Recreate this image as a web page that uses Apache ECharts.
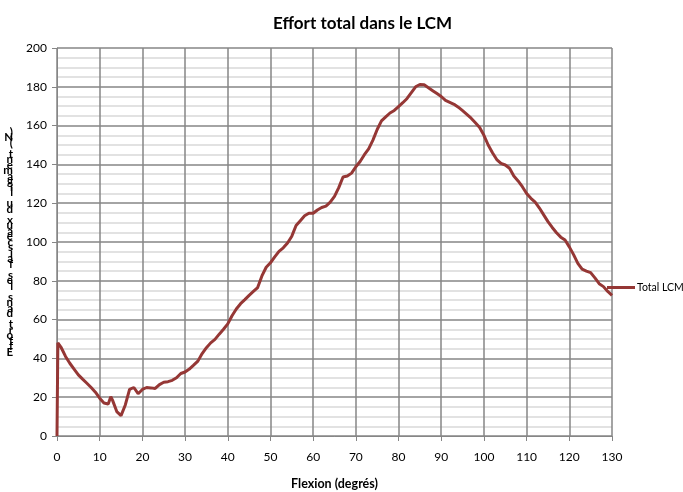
<!DOCTYPE html>
<html>
<head>
<meta charset="utf-8">
<script src="https://cdn.jsdelivr.net/npm/echarts@6/dist/echarts.min.js"></script>
<style>
  html, body { margin: 0; padding: 0; background: #fff; }
  #chart { width: 683px; height: 492px; }
</style>
</head>
<body>
<div id="chart"></div>
<script>
// values
var flexion = [0, 0.2, 1, 2, 3, 4, 5, 6, 7, 8, 9, 10, 11, 12, 12.6, 13, 14, 15, 16, 17, 18, 19, 20,
  21, 22, 23, 24, 25, 26, 27, 28, 29, 30, 31, 32, 33, 34, 35, 36, 37, 38, 39, 40,
  41, 42, 43, 44, 45, 46, 47, 48, 49, 50, 51, 52, 53, 54, 55, 56, 57, 58, 59, 60,
  61, 62, 63, 64, 65, 66, 67, 68, 69, 70, 71, 72, 73, 74, 75, 76, 77, 78, 79, 80,
  81, 82, 83, 84, 85, 86, 87, 88, 89, 90, 91, 92, 93, 94, 95, 96, 97, 98, 99, 100,
  101, 102, 103, 104, 105, 106, 107, 108, 109, 110, 111, 112, 113, 114, 115, 116, 117, 118, 119, 120,
  121, 122, 123, 124, 125, 126, 127, 128, 129, 130];
var totalLCM = [0, 48, 45.5, 41, 37.5, 34.5, 31.5, 29.3, 27.2, 25, 22.6, 19.5, 17, 16.5, 20.3, 18.5, 12.6, 10.5, 16, 24, 25, 21.8, 24,
  25, 24.8, 24.5, 26.5, 27.7, 28, 28.7, 30, 32.2, 33, 34.5, 36.5, 38.6, 42.5, 45.5, 48, 49.8, 52.5, 55, 57.8,
  62, 65.5, 68.2, 70.3, 72.5, 74.5, 76.5, 82.5, 87, 89.3, 92.3, 95.2, 97, 99.5, 103, 108.5, 111, 113.5, 114.8, 114.8,
  116.5, 117.8, 118.5, 120.5, 123.5, 128, 133.5, 134, 135.5, 138.8, 141.5, 145, 148, 152.5, 158, 162.4, 164.5, 166.5, 167.8, 169.8,
  171.8, 174, 177, 180, 181.2, 181, 179.5, 178, 176.5, 175, 173, 172, 171, 169.5, 167.7, 165.8, 163.8, 161.5, 159, 155,
  150, 146, 142.5, 140.5, 139.7, 138, 134, 131.5, 128.5, 125, 122.5, 120.5, 117.5, 114, 110.5, 107.5, 104.8, 102.5, 101, 97.5,
  93.5, 89, 86, 85, 84.2, 81.5, 78.5, 77, 74.5, 72.5];
var yName = 'Effort dans les faisceaux du ligament (N)';

var chart = echarts.init(document.getElementById('chart'));
var font = 'Lato, "Liberation Sans", sans-serif';

var points = flexion.map(function (x, i) { return [x, totalLCM[i]]; });

// the original stacks the y title upside down, last letter on top
var yNameStacked = yName.split('').reverse().join('\n');

chart.setOption({
  animation: false,
  textStyle: { fontFamily: font },
  title: {
    text: 'Effort total dans le LCM',
    left: 268,
    top: 10,
    textStyle: { fontSize: 17, fontWeight: 'bold', color: '#000', fontFamily: font }
  },
  legend: {
    left: 602,
    top: 277,
    icon: 'rect',
    itemWidth: 28,
    itemHeight: 3,
    data: ['Total LCM'],
    textStyle: { fontSize: 10.5, color: '#000', padding: [0, 0, 0, -3] }
  },
  grid: { left: 57, right: 71, top: 48, bottom: 56, outerBoundsMode: 'none' },
  xAxis: {
    type: 'value',
    min: 0,
    max: 130,
    interval: 10,
    name: 'Flexion (degrés)',
    nameLocation: 'middle',
    nameGap: 41,
    nameTextStyle: { fontSize: 12.5, fontWeight: 'bold', color: '#000' },
    axisLine: { lineStyle: { color: '#868686' } },
    axisTick: { show: true, length: 5, lineStyle: { color: '#868686' } },
    axisLabel: { fontSize: 12, color: '#000', margin: 15 },
    splitLine: { show: true, lineStyle: { color: '#868686', width: 1.5 } }
  },
  yAxis: {
    type: 'value',
    min: 0,
    max: 200,
    interval: 20,
    name: yNameStacked,
    nameLocation: 'middle',
    nameRotate: 0,
    nameGap: 44,
    nameTextStyle: { fontSize: 11.5, fontWeight: 'bold', color: '#000', lineHeight: 5.5 },
    axisLine: { show: true, lineStyle: { color: '#868686' } },
    axisTick: { show: true, length: 5, lineStyle: { color: '#868686' } },
    axisLabel: { fontSize: 12, color: '#000', margin: 10 },
    splitLine: { show: true, lineStyle: { color: '#868686', width: 1.5 } },
    minorTick: { show: false, splitNumber: 4 },
    minorSplitLine: { show: true, lineStyle: { color: '#d9d9d9', width: 1.5 } }
  },
  series: [{
    name: 'Total LCM',
    type: 'line',
    data: points,
    symbol: 'none',
    smooth: false,
    lineStyle: { color: '#953735', width: 3 },
    itemStyle: { color: '#953735' }
  }]
});
</script>
</body>
</html>
